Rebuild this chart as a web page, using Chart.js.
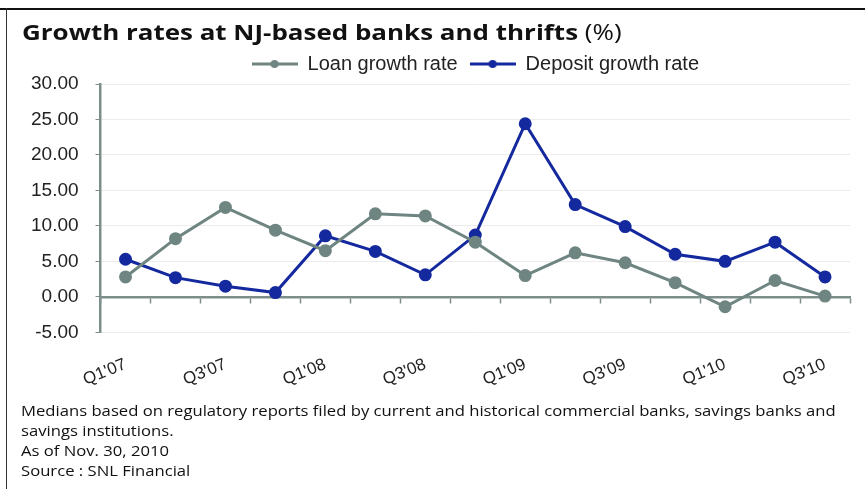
<!DOCTYPE html>
<html>
<head>
<meta charset="utf-8">
<script src="https://cdn.jsdelivr.net/npm/chart.js@4/dist/chart.umd.min.js"></script>
<style>
  body { margin: 0; background: #fff; }
  #wrap { position: relative; width: 865px; height: 489px; overflow: hidden; background: #fff; }
  #wrap canvas { position: absolute; left: 0; top: 0; }
  .frameTop { position: absolute; left: 0; top: 8px; width: 865px; height: 2px; background: #111; }
  .frameLeft { position: absolute; left: 6px; top: 8px; width: 1px; height: 481px; background: #333; }
  #title { position: absolute; left: 22px; top: 16px; font: bold 22px "Open Sans", sans-serif; color: #111; white-space: nowrap; transform: scaleX(1.18); transform-origin: left top; }
  #title span { font-weight: normal; }
  #notes { position: absolute; left: 21px; top: 400px; font: 15px "Open Sans", sans-serif; line-height: 20px; color: #111; white-space: nowrap; transform: scaleX(1.11); transform-origin: left top; }
</style>
</head>
<body>
<div id="wrap">
  <canvas id="chart" width="865" height="489"></canvas>
  <div class="frameTop"></div>
  <div class="frameLeft"></div>
  <div id="title">Growth rates at NJ-based banks and thrifts <span>(%)</span></div>
  <div id="notes">Medians based on regulatory reports filed by current and historical commercial banks, savings banks and<br>savings institutions.<br>As of Nov. 30, 2010<br>Source : SNL Financial</div>
</div>
<script>
// quarters on the x axis (every other one gets a label)
const quarters = ["Q1'07", "Q2'07", "Q3'07", "Q4'07", "Q1'08", "Q2'08", "Q3'08", "Q4'08",
  "Q1'09", "Q2'09", "Q3'09", "Q4'09", "Q1'10", "Q2'10", "Q3'10"]

// values, in %
const loanGrowth = [2.8, 8.2, 12.6, 9.4, 6.5, 11.7, 11.4, 7.7, 3.0, 6.2, 4.8, 2.0, -1.4, 2.3, 0.1]
const depositGrowth = [5.3, 2.7, 1.5, 0.6, 8.6, 6.4, 3.1, 8.7, 24.4, 13.0, 9.9, 6.0, 5.0, 7.7, 2.8]

const yMin = -5
const yMax = 30
const yStep = 5

const loanColor = '#6e8581'
const depositColor = '#15299f'
const axisColor = '#7d8e8a'

// little line-with-dot marker for the legend
function legendMarker(color) {
  const c = document.createElement('canvas')
  c.width = 46
  c.height = 12
  const g = c.getContext('2d')
  g.strokeStyle = color
  g.lineWidth = 3
  g.beginPath()
  g.moveTo(0, 6)
  g.lineTo(46, 6)
  g.stroke()
  g.fillStyle = color
  g.beginPath()
  g.arc(23, 6, 4, 0, Math.PI * 2)
  g.fill()
  return c
}
const markers = [legendMarker(loanColor), legendMarker(depositColor)]

const ctx = document.getElementById('chart').getContext('2d')
new Chart(ctx, {
  type: 'line',
  data: {
    labels: quarters,
    datasets: [
      {
        label: 'Loan growth rate',
        data: loanGrowth,
        borderColor: loanColor,
        backgroundColor: loanColor,
        borderWidth: 3,
        pointRadius: 5,
        pointHoverRadius: 5,
        tension: 0,
        xAxisID: 'x'
      },
      {
        label: 'Deposit growth rate',
        data: depositGrowth,
        borderColor: depositColor,
        backgroundColor: depositColor,
        borderWidth: 3,
        pointRadius: 5,
        pointHoverRadius: 5,
        tension: 0,
        xAxisID: 'x'
      }
    ]
  },
  options: {
    responsive: false,
    animation: false,
    layout: {
      padding: { left: 14, right: 15, top: 42, bottom: 85 }
    },
    scales: {
      // axis line sitting on zero, with tick marks between quarters
      x: {
        type: 'category',
        position: { y: 0 },
        offset: true,
        grid: {
          display: true,
          offset: true,
          drawOnChartArea: false,
          drawTicks: true,
          tickLength: 5,
          tickColor: axisColor,
          tickWidth: 1.5
        },
        border: { color: axisColor, width: 2.5 },
        ticks: { display: false }
      },
      // labels along the bottom
      x2: {
        type: 'category',
        position: 'bottom',
        offset: true,
        grid: { display: false },
        border: { display: false },
        ticks: {
          autoSkip: false,
          minRotation: 22,
          maxRotation: 22,
          padding: 14,
          color: '#222',
          font: { family: 'Liberation Sans, Arial, sans-serif', size: 17 },
          callback: (v, i) => (i % 2 === 0 ? quarters[i] : '')
        }
      },
      y: {
        min: yMin,
        max: yMax,
        ticks: {
          stepSize: yStep,
          padding: 17,
          color: '#222',
          font: { family: 'Liberation Sans, Arial, sans-serif', size: 19 },
          callback: (v) => Number(v).toFixed(2)
        },
        grid: {
          color: '#ececec',
          lineWidth: 1,
          tickColor: axisColor,
          tickLength: 5
        },
        border: { color: axisColor, width: 2.5 }
      }
    },
    plugins: {
      title: { display: false },
      tooltip: { enabled: false },
      legend: {
        position: 'top',
        fullSize: false,
        labels: {
          usePointStyle: true,
          pointStyleWidth: 46,
          padding: 12,
          color: '#222',
          font: { family: 'Liberation Sans, Arial, sans-serif', size: 20 },
          generateLabels: (chart) => {
            const items = Chart.defaults.plugins.legend.labels.generateLabels(chart)
            items.forEach((it, i) => { it.pointStyle = markers[i] })
            return items
          }
        }
      }
    }
  }
})
</script>
</body>
</html>
